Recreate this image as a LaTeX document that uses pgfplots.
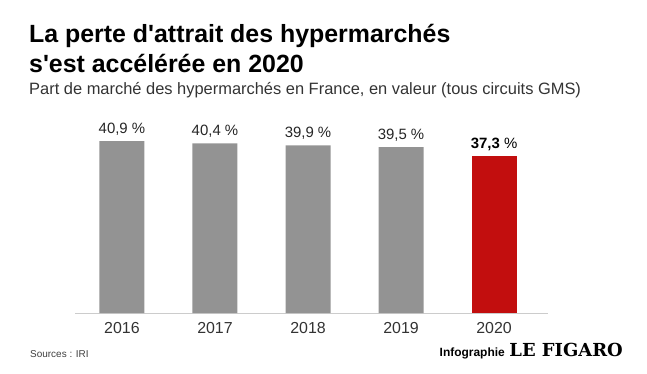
\documentclass[border=0pt]{standalone}
\usepackage{pgfplots}
\pgfplotsset{compat=1.18}
\usepackage{fontspec}
\setmainfont{Liberation Sans}
\newfontfamily\figfont{DejaVu Serif}
\definecolor{bargray}{HTML}{939393}
\definecolor{barred}{HTML}{C20E0E}
\definecolor{axgray}{HTML}{CCCCCC}
\begin{document}
\begin{tikzpicture}[x=1bp,y=1bp]
\path[use as bounding box] (0,0) rectangle (647,373);
\begin{axis}[
  at={(75bp,60bp)}, anchor=south west,
  scale only axis, width=473bp, height=189bp,
  xmin=-0.505, xmax=4.58, ymin=0, ymax=45,
  axis x line=bottom, axis y line=none,
  x axis line style={draw=axgray, line width=1bp, -},
  xtick={0,1,2,3,4}, xticklabels={2016,2017,2018,2019,2020},
  major tick length=0pt,
  xticklabel style={font=\fontsize{16}{18}\selectfont, text=black!80, yshift=-6bp},
  ytick=\empty,
  clip=false,
  ybar, bar width=45bp, bar shift=0pt,
  /pgf/number format/assume math mode=true,
  every node near coord/.append style={font=\fontsize{15}{17}\selectfont, text=black!85, yshift=2bp},
]
\addplot[fill=bargray, draw=none, bar shift=0pt,
  nodes near coords={\pgfmathprintnumber[fixed,fixed zerofill,precision=1,use comma,assume math mode=true]{\pgfplotspointmeta}~\%}]
  coordinates {(0,40.9) (1,40.4) (2,39.9) (3,39.5)};
\addplot[fill=barred, draw=none, bar shift=0pt,
  nodes near coords={\textbf{\pgfmathprintnumber[fixed,fixed zerofill,precision=1,use comma,assume math mode=true]{\pgfplotspointmeta}}~\%},
  every node near coord/.append style={text=black}]
  coordinates {(4,37.3)};
\end{axis}
\node[anchor=base west, font=\fontsize{25}{28}\selectfont\bfseries, inner sep=0] at (29,331) {La perte d\textquotesingle attrait des hypermarchés};
\node[anchor=base west, font=\fontsize{25}{28}\selectfont\bfseries, inner sep=0] at (29,301) {s\textquotesingle est accélérée en 2020};
\node[anchor=base west, font=\fontsize{16.5}{19}\selectfont, text=black!80, inner sep=0] at (29,279) {Part de marché des hypermarchés en France, en valeur (tous circuits GMS)};
\node[anchor=base west, font=\fontsize{10}{12}\selectfont, text=black!75, inner sep=0] at (30,16) {Sources : IRI};
\node[anchor=base east, font=\fontsize{18}{20}\selectfont\figfont\bfseries, inner sep=0] at (623,17) {LE FIGARO};
\node[anchor=base east, font=\fontsize{12}{14}\selectfont\bfseries, inner sep=0] at (505,17) {Infographie};
\end{tikzpicture}
\end{document}
